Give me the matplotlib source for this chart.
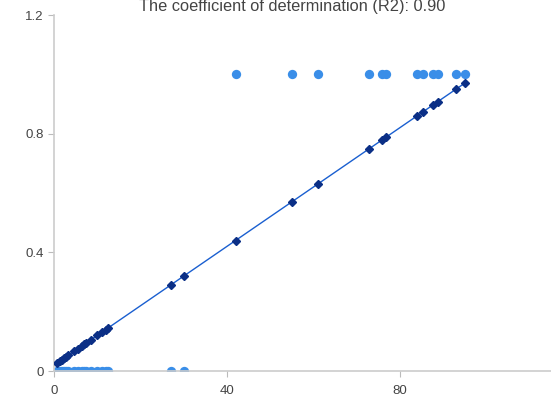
import numpy as np
import matplotlib.pyplot as plt
from matplotlib.ticker import FuncFormatter

# observed outcomes (0/1) against x
x_zero = [0.8, 1.3, 1.8, 2.3, 2.8, 3.3, 4.7, 5.5, 6.5, 7.0, 7.5, 8.5,
          10.0, 11.0, 12.0, 12.5, 27.0, 30.0]
x_one = [42.0, 55.0, 61.0, 72.8, 75.8, 76.8, 83.9, 85.3, 87.6, 88.8, 93.0, 95.0]

# fitted regression line
intercept = 0.02
slope = 0.01
r2 = 0.90

x_all = np.array(sorted(x_zero + x_one))
y_fit = intercept + slope * x_all

plt.rcParams['font.family'] = ['Liberation Sans', 'DejaVu Sans']

fig = plt.figure(figsize=(5.51, 3.96), dpi=100)
ax = fig.add_axes([0.098, 0.063, 0.902, 0.899])

ax.scatter(x_zero, np.zeros(len(x_zero)), s=45, color='#3a8ee8', zorder=2, linewidths=0)
ax.scatter(x_one, np.ones(len(x_one)), s=45, color='#3a8ee8', zorder=2, linewidths=0)
ax.plot(x_all, y_fit, color='#1a5fd0', lw=1.0, zorder=3)
ax.plot(x_all, y_fit, ls='none', marker='D', ms=4, color='#0b2f86', zorder=4)

ax.set_xlim(0, 115)
ax.set_ylim(0, 1.2)
ax.set_xticks([0, 40, 80])
ax.set_yticks([0, 0.4, 0.8, 1.2])
ax.yaxis.set_major_formatter(FuncFormatter(lambda v, p: '0' if v == 0 else f'{v:.1f}'))

for side in ['top', 'right']:
    ax.spines[side].set_visible(False)
for side in ['left', 'bottom']:
    ax.spines[side].set_color('#cccccc')
    ax.spines[side].set_linewidth(1.2)
ax.tick_params(axis='both', colors='#bbbbbb', labelcolor='#444444', labelsize=9.5, length=4, width=0.8)
ax.tick_params(axis='x', pad=6)

fig.text(0.53, 0.983, f'The coefficient of determination (R2): {r2:.2f}',
         ha='center', va='center', fontsize=11.8, color='#444444')

fig.savefig('out.png', dpi=100)
